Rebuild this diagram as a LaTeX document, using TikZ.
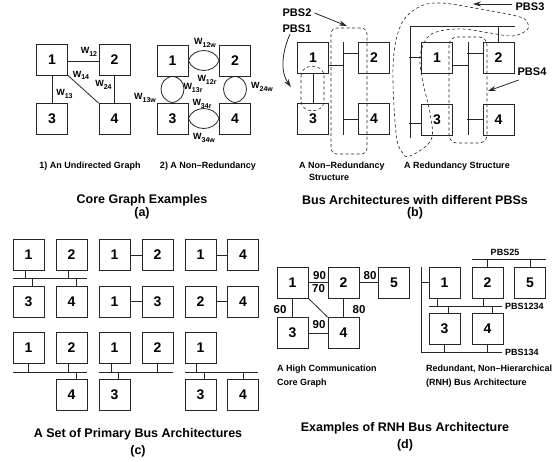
\documentclass[tikz,border=0pt]{standalone}
\usepackage{fontspec}
\setmainfont{Liberation Sans}
\usetikzlibrary{arrows.meta}
\newcommand{\Wl}[1]{W\raisebox{-0.5ex}{\fontsize{7}{8}\selectfont #1}}
\begin{document}
\begin{tikzpicture}[x=1pt,y=-1pt,
  box/.style={draw=black!85, line width=0.8pt, minimum width=31pt, minimum height=31pt, inner sep=0pt, font=\bfseries\fontsize{14}{16}\selectfont},
  ln/.style={draw=black!85, line width=0.8pt},
  pbs/.style={draw=black!85, line width=0.6pt, dash pattern=on 3pt off 2.5pt},
  lab/.style={font=\bfseries\fontsize{9}{10}\selectfont, inner sep=0pt},
  wl/.style={font=\bfseries\fontsize{9}{10}\selectfont, inner sep=0pt},
  num/.style={font=\bfseries\fontsize{11.5}{13}\selectfont, inner sep=0pt},
  pl/.style={font=\bfseries\fontsize{11}{12}\selectfont, inner sep=0pt},
  dl/.style={font=\bfseries\fontsize{9}{10}\selectfont, inner sep=0pt},
  ttl/.style={font=\bfseries\fontsize{12.5}{14}\selectfont, inner sep=0pt},
  arr/.style={ln, -{Stealth[length=8pt,width=5pt]}}
]
\useasboundingbox[fill=white] (0,0) rectangle (559,461);

% ---------------- (a) left: undirected graph
\node[box] (a1) at (52,59.5) {1};
\node[box] (a2) at (114.5,59.5) {2};
\node[box] (a3) at (52,119) {3};
\node[box] (a4) at (114.5,119) {4};
\draw[ln] ([yshift=-1.5pt]a1.east) -- ([yshift=-1.5pt]a2.west);
\draw[ln] (a1) -- (a3);
\draw[ln] (a2) -- (a4);
\draw[ln] (a1.south east) -- (a4.north west);
\node[wl] (w12) at (89,52) {\Wl{12}};
\node[wl] (w14) at (81,75.5) {\Wl{14}};
\node[wl] (w24) at (103.5,85) {\Wl{24}};
\node[wl] (w13) at (64.5,94) {\Wl{13}};

% ---------------- (a) right: non-redundancy
\node[box] (n1) at (172.5,60.5) {1};
\node[box] (n2) at (235,60.5) {2};
\node[box] (n3) at (172.5,118.5) {3};
\node[box] (n4) at (235,118.5) {4};
\draw[ln] (n1.east) .. controls (193,47.2) and (214.5,47.2) .. (n2.west);
\draw[ln] (n1.east) .. controls (193,73.8) and (214.5,73.8) .. (n2.west);
\draw[ln] (n3.east) .. controls (193,105.2) and (214.5,105.2) .. (n4.west);
\draw[ln] (n3.east) .. controls (193,131.8) and (214.5,131.8) .. (n4.west);
\draw[ln] (n1.south) .. controls (157.2,78) and (157.2,100) .. (n3.north);
\draw[ln] (n1.south) .. controls (187.8,78) and (187.8,100) .. (n3.north);
\draw[ln] (n2.south) .. controls (219.7,78) and (219.7,100) .. (n4.north);
\draw[ln] (n2.south) .. controls (250.3,78) and (250.3,100) .. (n4.north);
\node[wl] (w12w) at (205,43) {\Wl{12w}};
\node[wl] (w12r) at (207,80) {\Wl{12r}};
\node[wl] (w13r) at (193,88) {\Wl{13r}};
\node[wl] (w13w) at (145,98) {\Wl{13w}};
\node[wl] (w24w) at (262,87) {\Wl{24w}};
\node[wl] (w34r) at (202,104) {\Wl{34r}};
\node[wl] (w34w) at (204,138) {\Wl{34w}};

\node[lab] (capa1) at (90,166) {1) An Undirected Graph};
\node[lab] (capa2) at (208,166) {2) A Non–Redundancy};
\node[ttl] (ta) at (142,200) {Core Graph Examples};
\node[ttl] (ta2) at (142,213) {(a)};

% ---------------- (b) left: non-redundancy structure
\node[box] (p1) at (313,57.5) {1};
\node[box] (p2) at (374,57.5) {2};
\node[box] (p3) at (313,119) {3};
\node[box] (p4) at (374,119) {4};
\draw[ln] (p1) -- (p3);
\coordinate (pbt) at (343,42);
\coordinate (pbb) at (343,135);
\draw[ln] (pbt) -- (pbb);
\draw[ln] ([yshift=-7.5pt]p1.east) -- ++(14.5,0);
\draw[ln] ([yshift=4.5pt]p2.west) -- ++(-15.5,0);
\draw[ln] (p4.west) -- ++(-15.5,0);
\draw[pbs, rounded corners=6pt] (331,28) rectangle (367,154);
\draw[pbs] (301,76) .. controls (301,63) and (324,63) .. (324,76) -- (324,101)
  .. controls (324,114) and (301,114) .. (301,101) -- cycle;
\node[pl] (lpbs2) at (297,13) {PBS2};
\node[pl] (lpbs1) at (297,29) {PBS1};
\draw[arr] ([xshift=3pt]lpbs2.east) -- (347,26);
\draw[arr] ([xshift=-7pt,yshift=-1pt]lpbs1.south) .. controls (282,52) and (280,72) .. (291,87);

% ---------------- (b) right: redundancy structure
\node[box] (q1) at (437,57.5) {1};
\node[box] (q2) at (498.5,57.5) {2};
\node[box] (q3) at (437,119.5) {3};
\node[box] (q4) at (498.5,119.5) {4};
\coordinate (qlb) at (410,138);
\coordinate (qlt) at (410,26);
\coordinate (qrt) at (515,26);
\draw[ln] (qlb) -- (qlt) -- (qrt);
\draw[ln] (q2.north) -- ++(0,-16);
\draw[ln] (q1.west) -- ++(-12,0);
\draw[ln] ([yshift=-3.5pt]q3.west) -- ++(-12,0);
\coordinate (qmt) at (468,42);
\coordinate (qmb) at (468,135);
\draw[ln] (qmt) -- (qmb);
\draw[ln] ([yshift=-7.5pt]q1.east) -- ++(15.5,0);
\draw[ln] ([yshift=4.5pt]q2.west) -- ++(-15.5,0);
\draw[ln] (q4.west) -- ++(-15.5,0);
\draw[pbs, rounded corners=8pt] (449,37) rectangle (487,143);
\draw[pbs] plot[smooth cycle, tension=0.6] coordinates {(410,156) (431,140) (430,113) (423,83) (420,57) (427,38) (440,31) (463,29) (490,33) (513,36) (527,30) (528,24) (520,17) (480,9) (440,3) (417,8) (400,27) (393,67) (396,133) (402,152)};
\node[pl] (lpbs3) at (530,7) {PBS3};
\node[pl] (lpbs4) at (532,72) {PBS4};
\draw[arr] ([xshift=-3pt,yshift=3pt]lpbs3.west) -- (473,4);
\draw[arr] ([xshift=1pt,yshift=-4pt]lpbs4.south west) -- (488,91);

\node[lab] (capb1) at (342,166) {A Non–Redundancy};
\node[lab] (capb1b) at (329,177) {Structure};
\node[lab] (capb2) at (457,166) {A Redundancy Structure};
\node[ttl] (tb) at (415,200) {Bus Architectures with different PBSs};
\node[ttl] (tb2) at (415,213) {(b)};

% ---------------- (c) primary bus architectures
% row 1-2, group A
\node[box] (ca1) at (28.5,255) {1};
\node[box] (ca2) at (71.5,255) {2};
\node[box] (ca3) at (28.5,301.5) {3};
\node[box] (ca4) at (71.5,301.5) {4};
\coordinate (cab1) at (13,278);
\coordinate (cab2) at (87,278);
\draw[ln] (cab1) -- (cab2);
\draw[ln] ([xshift=-3.5pt]ca1.south) -- ++(0,7.5);
\draw[ln] ([xshift=-3.5pt]ca2.south) -- ++(0,7.5);
\draw[ln] ([xshift=3.5pt]ca3.north) -- ++(0,-8);
\draw[ln] ([xshift=4.5pt]ca4.north) -- ++(0,-8);
% group B
\node[box] (cb1) at (114.5,255) {1};
\node[box] (cb2) at (157.5,255) {2};
\node[box] (cb3) at (114.5,301.5) {1};
\node[box] (cb4) at (157.5,301.5) {3};
\draw[ln] (cb1) -- (cb2);
\draw[ln] (cb3) -- (cb4);
% group C
\node[box] (cc1) at (200.5,255) {1};
\node[box] (cc2) at (243,255) {4};
\node[box] (cc3) at (200.5,301.5) {2};
\node[box] (cc4) at (243,301.5) {4};
\draw[ln] (cc1) -- (cc2);
\draw[ln] (cc3) -- (cc4);
% row 3-4, group A
\node[box] (cd1) at (28.5,348) {1};
\node[box] (cd2) at (71.5,348) {2};
\node[box] (cd4) at (71.5,395) {4};
\coordinate (cdb1) at (13,372);
\coordinate (cdb2) at (87,372);
\draw[ln] (cdb1) -- (cdb2);
\draw[ln] (cd1.south) -- ++(0,8);
\draw[ln] ([xshift=-3.5pt]cd2.south) -- ++(0,8);
\draw[ln] ([xshift=4.5pt]cd4.north) -- ++(0,-7.5);
% group B
\node[box] (ce1) at (114.5,348) {1};
\node[box] (ce2) at (157.5,348) {2};
\node[box] (ce3) at (114.5,395) {3};
\coordinate (ceb1) at (99,372);
\coordinate (ceb2) at (173,372);
\draw[ln] (ceb1) -- (ceb2);
\draw[ln] ([xshift=-3.5pt]ce1.south) -- ++(0,8);
\draw[ln] (ce2.south) -- ++(0,8);
\draw[ln] ([xshift=3.5pt]ce3.north) -- ++(0,-7.5);
% group C
\node[box] (cf1) at (200.5,348) {1};
\node[box] (cf3) at (200.5,395) {3};
\node[box] (cf4) at (243,395) {4};
\coordinate (cfb1) at (185,372);
\coordinate (cfb2) at (258,372);
\draw[ln] (cfb1) -- (cfb2);
\draw[ln] ([xshift=-4.5pt]cf1.south) -- ++(0,8);
\draw[ln] ([xshift=3.5pt]cf3.north) -- ++(0,-7.5);
\draw[ln] (cf4.north) -- ++(0,-7.5);

\node[ttl] (tc) at (138,434) {A Set of Primary Bus Architectures};
\node[ttl] (tc2) at (138,451) {(c)};

% ---------------- (d) left: high communication core graph
\node[box] (g1) at (292.5,282.5) {1};
\node[box] (g2) at (343.5,282.5) {2};
\node[box] (g5) at (394,282.5) {5};
\node[box] (g3) at (292.5,333) {3};
\node[box] (g4) at (343.5,333) {4};
\draw[ln] (g1) -- (g2);
\draw[ln] (g2) -- (g5);
\draw[ln] (g1) -- (g3);
\draw[ln] (g2) -- (g4);
\draw[ln] (g3) -- (g4);
\draw[ln] (g1.south east) -- (g4.north west);
\node[num] (e12) at (319.5,275.5) {90};
\node[num] (e25) at (370,275.5) {80};
\node[num] (e14) at (318.5,289) {70};
\node[num] (e13) at (280,310) {60};
\node[num] (e24) at (359,310) {80};
\node[num] (e34) at (319,325) {90};
\node[lab, anchor=west] (capd1) at (277,369) {A High Communication};
\node[lab, anchor=west] (capd1b) at (277,383) {Core Graph};

% ---------------- (d) right: RNH bus architecture
\node[box] (r1) at (444.5,282.5) {1};
\node[box] (r2) at (487.5,282.5) {2};
\node[box] (r5) at (530,282.5) {5};
\node[box] (r3) at (444.5,328.5) {3};
\node[box] (r4) at (487.5,328.5) {4};
% PBS25
\coordinate (b25a) at (472,259);
\coordinate (b25b) at (546,259);
\draw[ln] (b25a) -- (b25b);
\draw[ln] (r2.north) -- ++(0,-8);
\draw[ln] (r5.north) -- ++(0,-8);
\node[dl] (l25) at (505,252) {PBS25};
% PBS1234
\coordinate (b1234a) at (429,306);
\coordinate (b1234b) at (502,306);
\draw[ln] (b1234a) -- (b1234b);
\draw[ln] ([xshift=-7.5pt]r1.south) -- ++(0,8);
\draw[ln] ([xshift=-4.5pt]r2.south) -- ++(0,8);
\draw[ln] ([xshift=3.5pt]r3.north) -- ++(0,-7);
\draw[ln] ([xshift=4.5pt]r4.north) -- ++(0,-7);
\node[dl, anchor=west] (l1234) at (505,306) {PBS1234};
% PBS134
\coordinate (b134t) at (421,267);
\coordinate (b134c) at (421,352);
\coordinate (b134e) at (502,352);
\draw[ln] (b134t) -- (b134c) -- (b134e);
\draw[ln] (r1.west) -- ++(-8,0);
\draw[ln] (r3.south) -- ++(0,8);
\draw[ln] (r4.south) -- ++(0,8);
\node[dl, anchor=west] (l134) at (505,352) {PBS134};

\node[lab, anchor=west] (capd2) at (426,369) {Redundant, Non–Hierarchical};
\node[lab, anchor=west] (capd2b) at (426,383) {(RNH) Bus Architecture};
\node[ttl] (td) at (405,428) {Examples of RNH Bus Architecture};
\node[ttl] (td2) at (405,445) {(d)};
\end{tikzpicture}
\end{document}
